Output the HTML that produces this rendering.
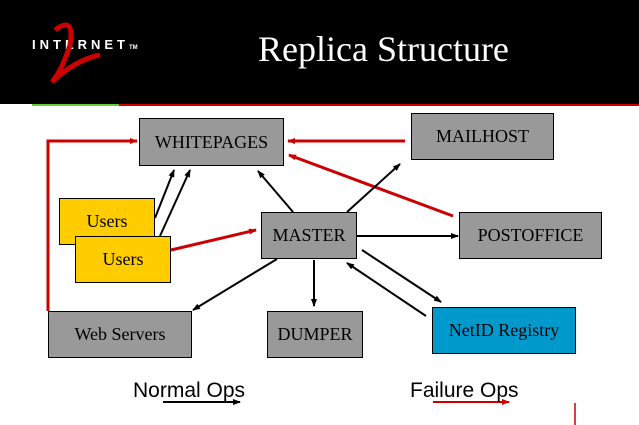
<!DOCTYPE html>
<html><head><style>
body{margin:0;width:639px;height:425px;overflow:hidden;background:#fff;position:relative;font-family:"Liberation Serif",serif}
.hdr{position:absolute;left:0;top:0;width:639px;height:104px;background:#000}
.b{position:absolute;border:1px solid #000;background:#999;display:flex;align-items:center;justify-content:center;font-size:18px;box-sizing:border-box}
.y{background:#fc0}
.lbl{position:absolute;font-family:"Liberation Sans",sans-serif;font-size:21px}
</style></head><body>
<div class="hdr"></div>
<div style="position:absolute;left:32px;top:104px;width:87px;height:2px;background:#6c3"></div>
<div style="position:absolute;left:119px;top:104px;width:520px;height:2px;background:#c00"></div>
<div style="position:absolute;left:258px;top:28px;color:#fff;font-size:36px">Replica Structure</div>
<div style="position:absolute;left:32px;top:37px;color:#fff;font:bold 13px 'Liberation Sans',sans-serif;letter-spacing:4px">INTERNET<span style="font-size:6px;letter-spacing:0">TM</span></div>
<svg style="position:absolute;left:0;top:0" width="639" height="425">
<path d="M55 30 Q75 15 70 45 Q62 70 52 82 Q75 60 100 55" stroke="#c00" stroke-width="5" fill="none"/>
<defs>
<marker id="k" markerWidth="8" markerHeight="8" refX="7" refY="4" orient="auto" markerUnits="userSpaceOnUse"><path d="M0,1 L8,4 L0,7z" fill="#000"/></marker>
<marker id="r" markerWidth="8" markerHeight="8" refX="7" refY="4" orient="auto" markerUnits="userSpaceOnUse"><path d="M0,1 L8,4 L0,7z" fill="#c00"/></marker>
</defs>
<g stroke="#c00" stroke-width="3" fill="none">
<polyline points="48,311 48,141 137,141" marker-end="url(#r)"/>
<line x1="405" y1="141" x2="288" y2="141" marker-end="url(#r)"/>
<line x1="453" y1="216" x2="289" y2="155" marker-end="url(#r)"/>
<line x1="171" y1="250" x2="256" y2="230" marker-end="url(#r)"/>
<line x1="433" y1="402" x2="509" y2="402" stroke-width="2" marker-end="url(#r)"/>
<line x1="575" y1="403" x2="575" y2="425" stroke-width="1.5"/>
</g>
<g stroke="#000" stroke-width="2" fill="none">
<line x1="155" y1="218" x2="174" y2="170" marker-end="url(#k)"/>
<line x1="160" y1="236" x2="190" y2="170" marker-end="url(#k)"/>
<line x1="293" y1="212" x2="258" y2="171" marker-end="url(#k)"/>
<line x1="347" y1="212" x2="400" y2="164" marker-end="url(#k)"/>
<line x1="357" y1="236" x2="458" y2="236" marker-end="url(#k)"/>
<line x1="277" y1="259" x2="193" y2="310" marker-end="url(#k)"/>
<line x1="314" y1="260" x2="314" y2="306" marker-end="url(#k)"/>
<line x1="362" y1="250" x2="441" y2="302" marker-end="url(#k)"/>
<line x1="426" y1="316" x2="347" y2="263" marker-end="url(#k)"/>
<line x1="163" y1="402" x2="240" y2="402" marker-end="url(#k)"/>
</g>
</svg>
<div class="b" style="left:139px;top:118px;width:145px;height:48px">WHITEPAGES</div>
<div class="b" style="left:411px;top:113px;width:143px;height:47px">MAILHOST</div>
<div class="b y" style="left:59px;top:198px;width:96px;height:47px;align-items:flex-start;padding-top:12px">Users</div>
<div class="b y" style="left:75px;top:236px;width:96px;height:47px">Users</div>
<div class="b" style="left:261px;top:212px;width:96px;height:47px">MASTER</div>
<div class="b" style="left:459px;top:212px;width:143px;height:47px">POSTOFFICE</div>
<div class="b" style="left:48px;top:311px;width:144px;height:47px">Web Servers</div>
<div class="b" style="left:267px;top:311px;width:96px;height:47px">DUMPER</div>
<div class="b" style="left:432px;top:307px;width:144px;height:47px;background:#09c">NetID Registry</div>
<div class="lbl" style="left:133px;top:379px">Normal Ops</div>
<div class="lbl" style="left:410px;top:379px">Failure Ops</div>
</body></html>
